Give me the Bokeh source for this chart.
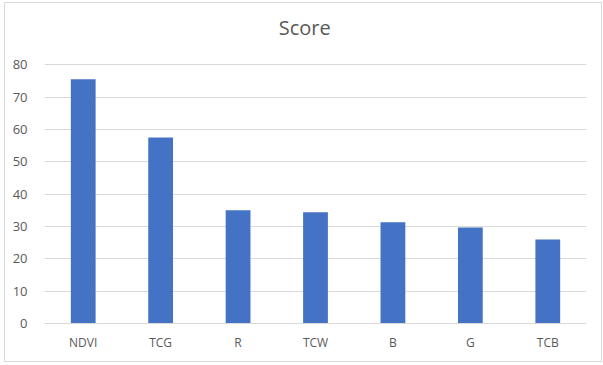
from bokeh.plotting import figure
from bokeh.models import Range1d, FixedTicker, Label
from bokeh.embed import file_html
from bokeh.resources import INLINE

categories = ["NDVI", "TCG", "R", "TCW", "B", "G", "TCB"]
scores = [75.5, 57.5, 35.0, 34.4, 31.3, 29.7, 26.0]
y_ticks = [0, 10, 20, 30, 40, 50, 60, 70, 80]
title_text = "Score"

FONT = "Open Sans"
GRAY = "#595959"

p = figure(x_range=categories, y_range=Range1d(0, 93.7),
           width=598, height=360, output_backend="svg", toolbar_location=None,
           min_border_left=39, min_border_right=17, min_border_top=17, min_border_bottom=40)
p.styles = {"border": "1px solid #d9d9d9", "margin-left": "4px", "margin-top": "2px"}
p.outline_line_color = None
p.background_fill_color = "white"
p.border_fill_color = "white"

p.vbar(x=categories, top=scores, width=0.32, color="#4472C4", line_color=None)

p.add_layout(Label(x=3.36, y=91.5, text=title_text, text_align="center",
                   text_baseline="alphabetic", text_font=FONT, text_font_size="20px",
                   text_color=GRAY))

p.yaxis.ticker = FixedTicker(ticks=y_ticks)
p.yaxis.axis_line_color = None
p.yaxis.major_tick_line_color = None
p.yaxis.minor_tick_line_color = None
p.yaxis.major_label_standoff = 11
p.yaxis.major_label_text_font = FONT
p.yaxis.major_label_text_font_size = "13px"
p.yaxis.major_label_text_color = GRAY

p.xaxis.axis_line_color = "#d9d9d9"
p.xaxis.major_tick_line_color = None
p.xaxis.minor_tick_line_color = None
p.xaxis.major_label_standoff = 4
p.xaxis.major_label_text_font = FONT
p.xaxis.major_label_text_font_size = "12px"
p.xaxis.major_label_text_color = GRAY

p.xgrid.grid_line_color = None
p.ygrid.grid_line_color = "#d9d9d9"
p.ygrid.grid_line_width = 1
p.x_range.range_padding = 0

open("out.html", "w").write(file_html(p, INLINE))
